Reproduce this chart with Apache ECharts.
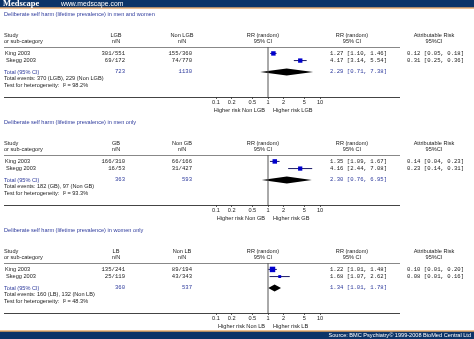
<!DOCTYPE html>
<html><head><meta charset="utf-8">
<script src="https://cdn.jsdelivr.net/npm/echarts@6/dist/echarts.min.js"></script>
<style>html,body{margin:0;padding:0;background:#fff}#c{width:474px;height:339px}</style>
</head><body><div id="c"></div>
<script>
// ---- data ----
const titles = [
  'Deliberate self harm (lifetime prevalence) in men and women',
  'Deliberate self harm (lifetime prevalence) in men only',
  'Deliberate self harm (lifetime prevalence) in women only'
];
const groupA = ['LGB', 'GB', 'LB'];
const groupB = ['Non LGB', 'Non GB', 'Non LB'];
const studies = ['King 2003', 'Skegg 2003'];
const expEvents = [[301, 69], [166, 16], [135, 25]];
const expTotal = [[551, 172], [310, 53], [241, 119]];
const ctrlEvents = [[155, 74], [66, 31], [89, 43]];
const ctrlTotal = [[360, 770], [166, 427], [194, 343]];
const rr = [[1.27, 4.17], [1.35, 4.16], [1.22, 1.68]];
const rrLo = [[1.10, 3.14], [1.09, 2.44], [1.01, 1.07]];
const rrHi = [[1.46, 5.54], [1.67, 7.08], [1.48, 2.62]];
const weights = [[51, 49], [53, 47], [78, 22]];
const pooled = [2.29, 2.30, 1.34];
const pooledLo = [0.71, 0.76, 1.01];
const pooledHi = [7.38, 6.95, 1.78];
const ar = [[0.12, 0.31], [0.14, 0.23], [0.10, 0.08]];
const arLo = [[0.05, 0.25], [0.04, 0.14], [0.01, 0.01]];
const arHi = [[0.18, 0.36], [0.23, 0.31], [0.20, 0.16]];
const i2 = [98.2, 93.3, 48.3];
const ticks = [0.1, 0.2, 0.5, 1, 2, 5, 10];
const tickLabels = ['0.1', '0.2', '0.5', '1', '2', '5', '10'];

// ---- layout ----
const studyRows = [0.9, 1.9];
const totalRow = 3.5;
const SANS = 'Liberation Sans, Arial, sans-serif';
const MONO = 'Liberation Mono, Courier New, monospace';
const BLUE = '#2d3a9c';
const FS = 5.6;

const chart = echarts.init(document.getElementById('c'), null, {renderer: 'canvas'});
const grids = [], xAxes = [], yAxes = [], series = [];
const fmt = v => {
  let best = 0;
  ticks.forEach((t, i) => { if (Math.abs(Math.log10(t) - Math.log10(v)) < Math.abs(Math.log10(ticks[best]) - Math.log10(v))) best = i; });
  return tickLabels[best];
};
for (let p = 0; p < 3; p++) {
  grids.push({left: 216, width: 104, top: 47 + 108 * p, height: 50});
  xAxes.push({type: 'log', logBase: 10, gridIndex: p, min: 0.1, max: 10, position: 'bottom',
    axisLine: {show: false, onZero: false},
    axisTick: {show: true, customValues: ticks, length: 2, lineStyle: {color: '#333', width: 0.8}},
    axisLabel: {customValues: ticks, fontSize: FS, margin: 2, color: '#222', fontFamily: SANS, formatter: fmt},
    splitLine: {show: false}, minorTick: {show: false}, minorSplitLine: {show: false}});
  yAxes.push({type: 'value', gridIndex: p, min: 0, max: 7, inverse: true, show: false});
  const sdata = studies.map((s, i) => [studyRows[i], rrLo[p][i], rrHi[p][i], rr[p][i], weights[p][i]]);
  series.push({type: 'line', xAxisIndex: p, yAxisIndex: p, data: [[1, 0], [1, 7]], symbol: 'none',
    lineStyle: {color: '#555', width: 1}, silent: true, animation: false});
  series.push({type: 'custom', xAxisIndex: p, yAxisIndex: p, data: sdata, animation: false,
    encode: {x: [1, 2, 3], y: 0},
    renderItem: (params, api) => {
      const y = api.value(0);
      const lo = api.coord([api.value(1), y]);
      const hi = api.coord([api.value(2), y]);
      const c = api.coord([api.value(3), y]);
      const s = 0.62 * Math.sqrt(api.value(4));
      return {type: 'group', children: [
        {type: 'line', shape: {x1: lo[0], y1: lo[1], x2: hi[0], y2: hi[1]}, style: {stroke: '#1a1a66', lineWidth: 1}},
        {type: 'rect', shape: {x: c[0] - s / 2, y: c[1] - s / 2, width: s, height: s}, style: {fill: '#0000cc'}}
      ]};
    }});
  series.push({type: 'custom', xAxisIndex: p, yAxisIndex: p, animation: false,
    data: [[totalRow, pooledLo[p], pooledHi[p], pooled[p]]],
    encode: {x: [1, 2, 3], y: 0},
    renderItem: (params, api) => {
      const y = api.value(0);
      const lo = api.coord([api.value(1), y]);
      const hi = api.coord([api.value(2), y]);
      const c = api.coord([api.value(3), y]);
      const h = 3.5;
      return {type: 'polygon', shape: {points: [[lo[0], lo[1]], [c[0], c[1] - h], [hi[0], hi[1]], [c[0], c[1] + h]]},
        style: {fill: '#000'}};
    }});
}
chart.setOption({animation: false, grid: grids, xAxis: xAxes, yAxis: yAxes, series: series});

// ---- texts ----
const g = [];
const py = (p, r) => chart.convertToPixel({gridIndex: p}, [1, r])[1];
function txt(x, y, s, opt) {
  opt = opt || {};
  g.push({type: 'text', x: x, y: y, silent: true, style: {text: s, fill: opt.fill || '#222', fontSize: opt.fs || FS,
    fontFamily: opt.font || SANS, fontWeight: opt.fw || 'normal', align: opt.align || 'left', verticalAlign: 'middle'}});
}
function hline(x1, x2, y, color) {
  g.push({type: 'line', silent: true, shape: {x1: x1, y1: y, x2: x2, y2: y}, style: {stroke: color, lineWidth: 1}});
}
const f2 = v => v.toFixed(2);
for (let p = 0; p < 3; p++) {
  txt(4, py(p, -4.62), titles[p], {fill: BLUE});
  const h1 = py(p, -1.68), h2 = py(p, -0.72);
  txt(4, h1, 'Study'); txt(4, h2, 'or sub-category');
  txt(116, h1, groupA[p], {align: 'center'}); txt(116, h2, 'n/N', {align: 'center'});
  txt(182, h1, groupB[p], {align: 'center'}); txt(182, h2, 'n/N', {align: 'center'});
  txt(263, h1, 'RR (random)', {align: 'center'}); txt(263, h2, '95% CI', {align: 'center'});
  txt(352, h1, 'RR (random)', {align: 'center'}); txt(352, h2, '95% CI', {align: 'center'});
  txt(434, h1, 'Attributable Risk', {align: 'center'}); txt(434, h2, '95%CI', {align: 'center'});
  hline(4, 400, Math.round(py(p, 0)) + 0.5, '#888');
  studies.forEach((s, i) => {
    const y = py(p, studyRows[i]);
    txt(5 + i, y, s);
    txt(125, y, expEvents[p][i] + '/' + expTotal[p][i], {align: 'right', font: MONO});
    txt(192, y, ctrlEvents[p][i] + '/' + ctrlTotal[p][i], {align: 'right', font: MONO});
    txt(330, y, f2(rr[p][i]) + ' [' + f2(rrLo[p][i]) + ', ' + f2(rrHi[p][i]) + ']', {font: MONO});
    txt(407, y, f2(ar[p][i]) + ' [' + f2(arLo[p][i]) + ', ' + f2(arHi[p][i]) + ']', {font: MONO});
  });
  const ty = py(p, totalRow);
  const sumA = expTotal[p].reduce((a, b) => a + b, 0), sumB = ctrlTotal[p].reduce((a, b) => a + b, 0);
  const evA = expEvents[p].reduce((a, b) => a + b, 0), evB = ctrlEvents[p].reduce((a, b) => a + b, 0);
  txt(4, ty, 'Total (95% CI)', {fill: BLUE});
  txt(125, ty, String(sumA), {align: 'right', font: MONO, fill: BLUE});
  txt(192, ty, String(sumB), {align: 'right', font: MONO, fill: BLUE});
  txt(330, ty, f2(pooled[p]) + ' [' + f2(pooledLo[p]) + ', ' + f2(pooledHi[p]) + ']', {font: MONO, fill: BLUE});
  txt(4, py(p, 4.45), 'Total events: ' + evA + ' (' + groupA[p] + '), ' + evB + ' (' + groupB[p] + ')');
  txt(4, py(p, 5.4), 'Test for heterogeneity:  I\u00b2 = ' + i2[p].toFixed(1) + '%');
  hline(4, 400, Math.round(py(p, 7)) + 0.5, '#444');
  txt(265, py(p, 8.85), 'Higher risk ' + groupB[p], {align: 'right'});
  txt(273, py(p, 8.85), 'Higher risk ' + groupA[p]);
}
// header & footer bars
g.push({type: 'rect', silent: true, z: -1, shape: {x: 0, y: 0, width: 474, height: 7.5}, style: {fill: '#0c3468'}});
g.push({type: 'rect', silent: true, shape: {x: 0, y: 7.5, width: 474, height: 1}, style: {fill: '#d9822b'}});
txt(3, 4, 'Medscape', {fill: '#fff', font: 'Liberation Serif, Times New Roman, serif', fs: 8.5, fw: 'bold'});
txt(61, 4, 'www.medscape.com', {fill: '#fff', fs: 6.8});
g.push({type: 'rect', silent: true, shape: {x: 0, y: 330.5, width: 474, height: 1.2}, style: {fill: '#e08a2c'}});
g.push({type: 'rect', silent: true, shape: {x: 0, y: 331.7, width: 474, height: 7.3}, style: {fill: '#0c3468'}});
txt(471, 335.4, 'Source: BMC Psychiatry\u00a9 1999-2008 BioMed Central Ltd', {fill: '#fff', align: 'right', fs: 5.6});
chart.setOption({graphic: g});
</script></body></html>
